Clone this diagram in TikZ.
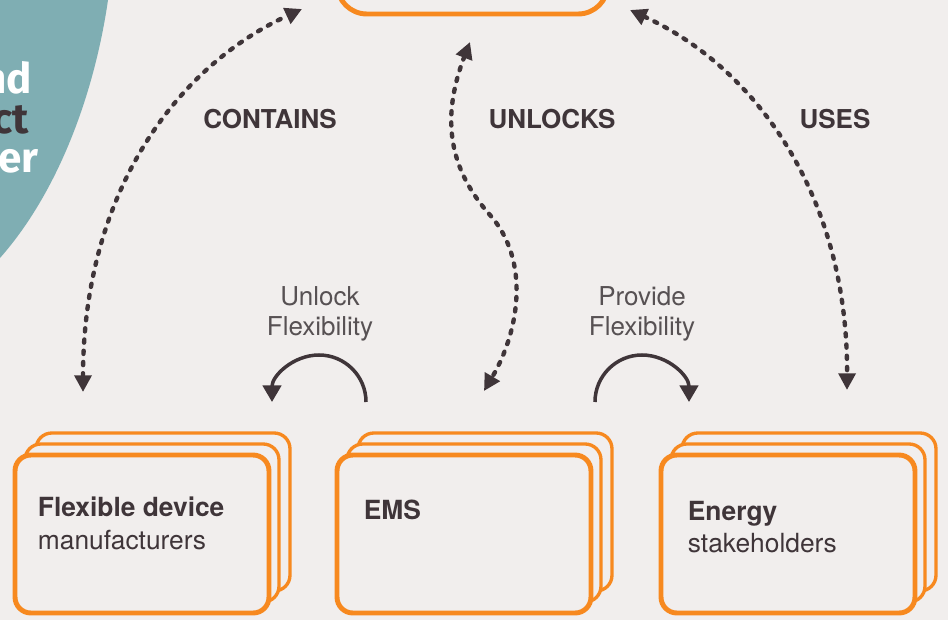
\documentclass[tikz,border=0pt]{standalone}
\usepackage{fontspec}
\setmainfont{TeX Gyre Heros}
\newfontfamily\blobfont{Fira Sans}
\usetikzlibrary{arrows.meta,calc}

\definecolor{paper}{HTML}{F1EEED}
\definecolor{teal}{HTML}{7FAEB3}
\definecolor{orng}{HTML}{F7891F}
\definecolor{ink}{HTML}{3F3539}
\definecolor{muted}{HTML}{575153}

\tikzset{
	card/.style={draw=orng, line width=2.8pt, rounded corners=9pt, fill=paper,
		minimum width=5.08cm, minimum height=3.16cm},
	cardback/.style={draw=orng, line width=1.9pt, rounded corners=9pt, fill=paper},
	hubbox/.style={draw=orng, line width=2.8pt, rounded corners=17pt, fill=paper,
		minimum width=5.42cm, minimum height=2.44cm},
	link/.style={draw=ink, line width=2.5pt, line cap=round, dash pattern=on 1.8pt off 4.6pt,
		{Triangle[length=9.5pt,width=9.5pt]}-{Triangle[length=9.5pt,width=9.5pt]}},
	flow/.style={draw=ink, line width=2pt, -{Triangle[length=9.5pt,width=10.5pt]}},
	relname/.style={anchor=base, inner sep=0pt, text=ink,
		font=\fontsize{14.8}{17}\selectfont\bfseries},
	flowname/.style={anchor=north, inner sep=0pt, align=center, text=muted,
		font=\fontsize{14.8}{17.2}\selectfont},
	cardtext/.style={anchor=north west, inner sep=0pt, align=left, text=ink,
		font=\fontsize{15}{18.7}\selectfont},
	blobtext/.style={anchor=base east, inner sep=0pt,
		font=\blobfont\fontsize{24}{28}\selectfont\bfseries}
}

\begin{document}
\begin{tikzpicture}[x=0.02cm, y=-0.02cm]

	% Canvas
	\useasboundingbox (0,0) rectangle (948,620);
	\fill[paper] (0,0) rectangle (948,620);
	\clip (0,0) rectangle (948,620);

	% Title blob
	\fill[teal] (0,0) -- (108,0) .. controls (95,90) and (60,190) .. (0,258) -- cycle;
	\node[blobtext, text=white] (tA) at (32,93) {nd};
	\node[blobtext, text=ink] (tB) at (29,133) {ct};
	\node[blobtext, text=white] (tC) at (39,172) {er};

	% Hub
	\node[hubbox] (hub) at (472.5,-47) {};

	% Cards
	\foreach \nm/\cx in {dev/142, ems/464, nrg/788} {
		\draw[cardback] ({\cx-106},433) rectangle ++(254,158);
		\draw[cardback] ({\cx-117},444) rectangle ++(254,158);
		\node[card] (\nm) at (\cx,534) {};
	}
	\node[cardtext] (devtext) at ($(dev.north west)+(25,44)$) {\textbf{Flexible device}\\manufacturers};
	\node[cardtext] (emstext) at ($(ems.north west)+(29,47)$) {\textbf{EMS}};
	\node[cardtext] (nrgtext) at ($(nrg.north west)+(29,48)$) {\textbf{Energy}\\stakeholders};

	% Arrow ends
	\coordinate (hubW) at (302,9);
	\coordinate (hubS) at (470,42);
	\coordinate (hubE) at (630,10);
	\coordinate (devN) at (83,392);
	\coordinate (emsN) at (484,391);
	\coordinate (nrgN) at (847,390);

	% Relations
	\draw[link] (devN) .. controls (83,200) and (170,70) .. (hubW);
	\draw[link] (hubS) .. controls (440,120) and (450,170) .. (490,215)
		.. controls (530,260) and (520,330) .. (emsN);
	\draw[link] (hubE) .. controls (760,70) and (848,200) .. (nrgN);
	\node[relname] (contains) at (270,128) {CONTAINS};
	\node[relname] (unlocks) at (552,128) {UNLOCKS};
	\node[relname] (uses) at (835,128) {USES};

	% Flexibility flows
	\coordinate (unlockA) at (366,402);
	\coordinate (provideA) at (595,402);
	\draw[flow] (unlockA) arc[start angle=0, end angle=-180, radius=47];
	\draw[flow] (provideA) arc[start angle=180, end angle=360, radius=47];
	\node[flowname] (unlock) at (320,286) {Unlock\\Flexibility};
	\node[flowname] (provide) at (642,286) {Provide\\Flexibility};

\end{tikzpicture}
\end{document}
